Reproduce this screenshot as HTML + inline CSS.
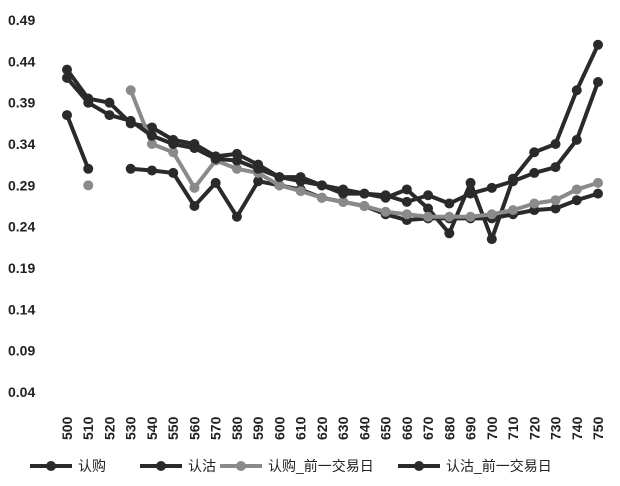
<!DOCTYPE html>
<html><head><meta charset="utf-8"><style>
body{margin:0;background:#fff}
text{font-family:"Liberation Sans","Noto Sans CJK SC",sans-serif;fill:#222}
</style></head><body>
<svg id="c" width="620" height="481"></svg>
<script>
const categories=[500,510,520,530,540,550,560,570,580,590,600,610,620,630,640,650,660,670,680,690,700,710,720,730,740,750];
const yTicks=[0.49,0.44,0.39,0.34,0.29,0.24,0.19,0.14,0.09,0.04];
const seriesNames=["认购","认沽","认购_前一交易日","认沽_前一交易日"];
const callNow=[0.375,0.31,null,0.31,0.308,0.305,0.265,0.293,0.252,0.295,0.29,0.285,0.275,0.27,0.265,0.255,0.248,0.25,0.25,0.25,0.25,0.255,0.26,0.262,0.272,0.28];
const putNow=[0.43,0.395,0.39,0.365,0.36,0.345,0.34,0.325,0.328,0.315,0.3,0.3,0.29,0.285,0.28,0.275,0.285,0.262,0.232,0.293,0.225,0.298,0.33,0.34,0.405,0.46];
const callPrev=[null,0.29,null,0.405,0.34,0.33,0.287,0.32,0.31,0.305,0.29,0.283,0.275,0.27,0.265,0.258,0.255,0.252,0.252,0.252,0.255,0.26,0.268,0.272,0.285,0.293];
const putPrev=[0.42,0.39,0.375,0.368,0.35,0.34,0.335,0.322,0.32,0.31,0.3,0.295,0.29,0.28,0.28,0.278,0.27,0.278,0.268,0.28,0.287,0.295,0.305,0.312,0.345,0.415];
const colors=["#2a2a2a","#2a2a2a","#8a8a8a","#2a2a2a"];
const svg=document.getElementById('c');const NS="http://www.w3.org/2000/svg";
const x=i=>67+i*(598-67)/(categories.length-1);
const y=v=>392-(v-0.04)*(392-20)/0.45;
function mk(t,a,p){const e=document.createElementNS(NS,t);for(const k in a)e.setAttribute(k,a[k]);(p||svg).appendChild(e);return e;}
yTicks.forEach(v=>{const t=mk('text',{x:8,y:y(v)+5,'font-size':14,'font-weight':'bold'});t.textContent=v.toFixed(2);

});
categories.forEach((c,i)=>{const t=mk('text',{x:0,y:0,'font-size':14,'font-weight':'bold',transform:`translate(${x(i)+5},${440}) rotate(-90)`});t.textContent=c;

});
[callNow,putNow,callPrev,putPrev].forEach((s,si)=>{const g=mk('g',{});


let d="",pen=false;s.forEach((v,i)=>{if(v==null){pen=false;return;}d+=(pen?"L":"M")+x(i)+" "+y(v)+" ";pen=true;});
mk('path',{d,fill:'none',stroke:colors[si],'stroke-width':4,'stroke-linejoin':'round'},g);
s.forEach((v,i)=>{if(v==null)return;const c=mk('circle',{cx:x(i),cy:y(v),r:5,fill:colors[si]},g);

});});
const lx=[30,140,220,398];
seriesNames.forEach((n,i)=>{const g=mk('g',{});


mk('line',{x1:lx[i],y1:466,x2:lx[i]+42,y2:466,stroke:colors[i],'stroke-width':4},g);
mk('circle',{cx:lx[i]+21,cy:466,r:5,fill:colors[i]},g);
const t=mk('text',{x:lx[i]+48,y:471,'font-size':14},g);t.textContent=n;});
</script>
</body></html>
